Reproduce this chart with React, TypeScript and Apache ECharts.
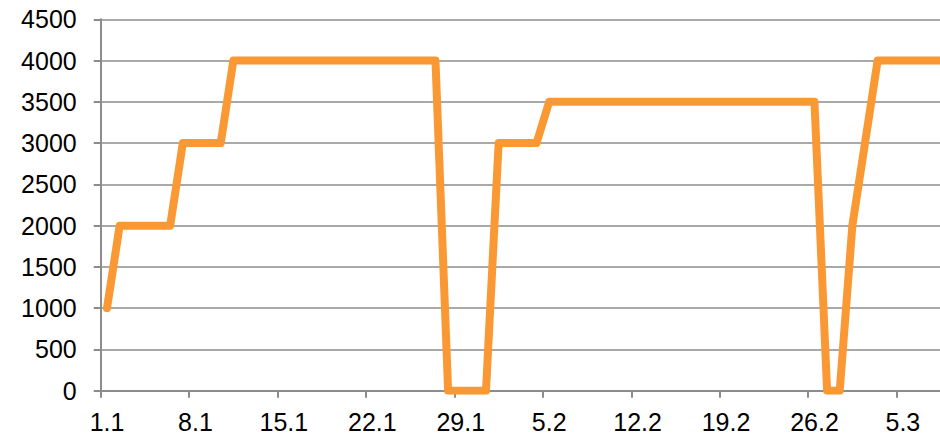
import React, { useEffect, useRef } from "react";
import * as echarts from "echarts";

const categories = [
  "1.1","2.1","3.1","4.1","5.1","6.1","7.1","8.1","9.1","10.1",
  "11.1","12.1","13.1","14.1","15.1","16.1","17.1","18.1","19.1","20.1",
  "21.1","22.1","23.1","24.1","25.1","26.1","27.1","28.1","29.1","30.1",
  "31.1","1.2","2.2","3.2","4.2","5.2","6.2","7.2","8.2","9.2",
  "10.2","11.2","12.2","13.2","14.2","15.2","16.2","17.2","18.2","19.2",
  "20.2","21.2","22.2","23.2","24.2","25.2","26.2","27.2","28.2","1.3",
  "2.3","3.3","4.3","5.3","6.3","7.3","8.3","9.3","10.3","11.3",
];

const values = [
  1000, 2000, 2000, 2000, 2000, 2000, 3000, 3000, 3000, 3000,
  4000, 4000, 4000, 4000, 4000, 4000, 4000, 4000, 4000, 4000,
  4000, 4000, 4000, 4000, 4000, 4000, 4000, 0, 0, 0,
  0, 3000, 3000, 3000, 3000, 3500, 3500, 3500, 3500, 3500,
  3500, 3500, 3500, 3500, 3500, 3500, 3500, 3500, 3500, 3500,
  3500, 3500, 3500, 3500, 3500, 3500, 3500, 0, 0, 2000,
  3000, 4000, 4000, 4000, 4000, 4000, 4000, 4000, 4000, 4000,
];

const yTicks = { min: 0, max: 4500, interval: 500 };

export default function App() {
  const ref = useRef<HTMLDivElement>(null);
  useEffect(() => {
    if (!ref.current) return;
    const chart = echarts.init(ref.current, null, { renderer: "svg" });
    const font = "'Liberation Sans', Arial, sans-serif";
    chart.setOption({
      animation: false,
      backgroundColor: "#ffffff",
      grid: { left: 100.7, top: 19.3, bottom: 46.3, right: 0, containLabel: false },
      xAxis: {
        type: "category",
        data: categories,
        boundaryGap: true,
        axisLine: { show: true, lineStyle: { color: "#8c8c8c", width: 2 } },
        axisTick: { show: true, interval: 6, length: 7, lineStyle: { color: "#8c8c8c", width: 2 } },
        axisLabel: { interval: 6, margin: 19, color: "#000", fontSize: 25, fontFamily: font },
        splitLine: { show: false },
      },
      yAxis: {
        type: "value",
        min: yTicks.min,
        max: yTicks.max,
        interval: yTicks.interval,
        axisLine: { show: true, lineStyle: { color: "#8c8c8c", width: 2 } },
        axisTick: { show: true, length: 7, lineStyle: { color: "#8c8c8c", width: 2 } },
        axisLabel: {
          margin: 24,
          color: "#000",
          fontSize: 25,
          fontFamily: font,
          formatter: (v: number) => String(v),
        },
        splitLine: { show: true, lineStyle: { color: "#8c8c8c", width: 1.5 } },
      },
      series: [
        {
          type: "line",
          data: values,
          showSymbol: false,
          symbol: "none",
          lineStyle: { color: "#FA9933", width: 8, cap: "round", join: "round" },
          clip: true,
        },
      ],
    });
    return () => chart.dispose();
  }, []);
  return (
    <div style={{ position: "fixed", left: 0, top: 0, width: 940, height: 437, overflow: "hidden", background: "#fff" }}>
      <div ref={ref} style={{ width: 985, height: 437 }} />
    </div>
  );
}
